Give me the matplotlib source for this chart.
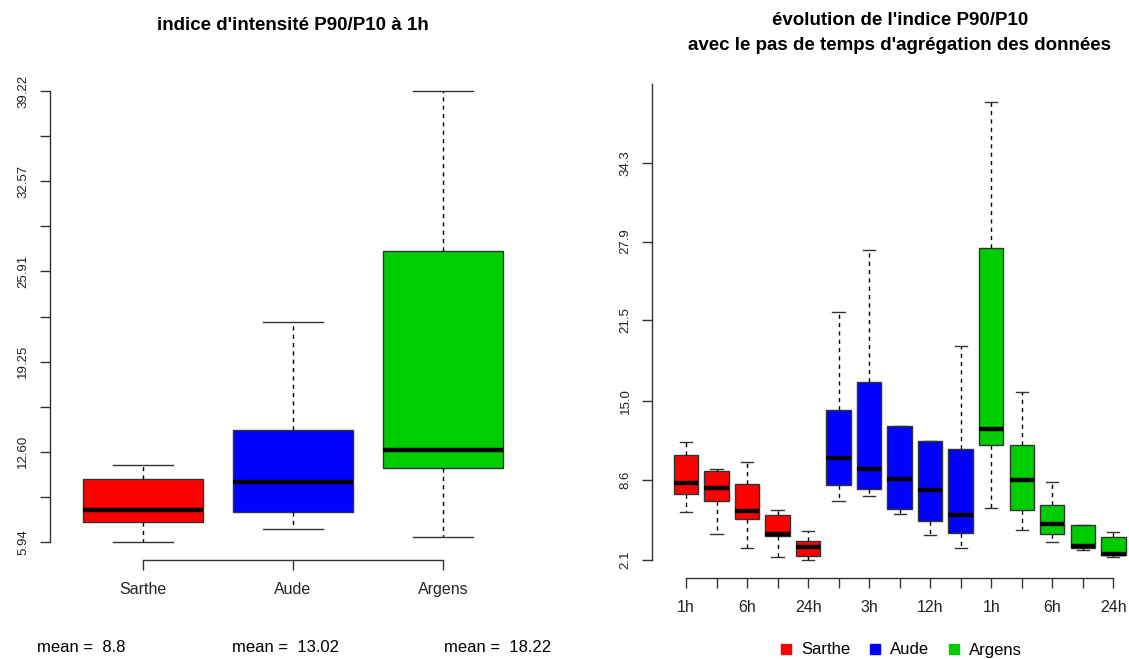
import numpy as np
import matplotlib
matplotlib.use("Agg")
import matplotlib.pyplot as plt
from matplotlib.lines import Line2D

plt.rcParams['font.family'] = ['Liberation Sans', 'DejaVu Sans']

# bassins et pas de temps d'agrégation
bassins = ["Sarthe", "Aude", "Argens"]
couleurs = ["#FF0000", "#0000FF", "#00CD00"]
pas = ["1h", "3h", "6h", "12h", "24h"]

# statistiques des boites : moustache basse, Q1, médiane, Q3, moustache haute (un par pas)
sarthe_stats = [
    [5.94, 7.42, 8.31, 10.60, 11.64],
    [4.21, 6.82, 7.92, 9.28, 9.47],
    [3.04, 5.40, 6.05, 8.22, 9.99],
    [2.31, 3.99, 4.16, 5.70, 6.11],
    [2.10, 2.43, 3.10, 3.64, 4.43],
]
aude_stats = [
    [6.90, 8.16, 10.38, 14.22, 22.21],
    [7.25, 7.84, 9.42, 16.54, 27.25],
    [5.84, 6.19, 8.63, 12.94, 12.94],
    [4.10, 5.24, 7.73, 11.72, 11.72],
    [3.04, 4.26, 5.70, 11.04, 19.44],
]
argens_stats = [
    [6.31, 11.41, 12.74, 27.39, 39.22],
    [4.54, 6.11, 8.55, 11.37, 15.68],
    [3.56, 4.18, 5.03, 6.54, 8.38],
    [2.86, 3.04, 3.18, 4.89, 4.89],
    [2.31, 2.45, 2.59, 3.94, 4.34],
]
moyennes = [8.8, 13.02, 18.22]

ticks_gauche = ["5.94", "12.60", "19.25", "25.91", "32.57", "39.22"]
ticks_droite = ["2.1", "8.6", "15.0", "21.5", "27.9", "34.3"]

W, H = 1129, 659
GRIS = "#333333"


def to_bxp(s):
    return dict(whislo=s[0], q1=s[1], med=s[2], q3=s[3], whishi=s[4], fliers=[])


def boites(ax, stats, cols, positions):
    b = ax.bxp([to_bxp(s) for s in stats], positions=positions, widths=0.8,
               patch_artist=True, showfliers=False, capwidths=0.4,
               boxprops=dict(edgecolor=GRIS, linewidth=1.0),
               medianprops=dict(color="black", linewidth=3.2, solid_capstyle="butt"),
               whiskerprops=dict(color="black", linewidth=1.0, linestyle=(0, (3, 3))),
               capprops=dict(color=GRIS, linewidth=1.0))
    for patch, c in zip(b["boxes"], cols):
        patch.set_facecolor(c)
    return b


def style_axes(ax):
    for s in ["top", "right"]:
        ax.spines[s].set_visible(False)
    for s in ["left", "bottom"]:
        ax.spines[s].set_color(GRIS)
        ax.spines[s].set_linewidth(1.0)
    ax.tick_params(axis="both", which="both", direction="out", length=7,
                   width=1.0, color=GRIS, labelcolor="#222222", labelsize=9.5, pad=8)
    ax.tick_params(axis="x", labelsize=11.5, pad=9)


def r_lim(lo, hi):
    d = 0.04 * (hi - lo)
    return lo - d, hi + d


fig = plt.figure(figsize=(W / 100, H / 100), dpi=100)

# --- panneau gauche : indice à 1h par bassin
ax1 = fig.add_axes([50 / W, 1 - 560 / H, (536 - 50) / W, (560 - 73) / H])
stats_1h = [sarthe_stats[0], aude_stats[0], argens_stats[0]]
boites(ax1, stats_1h, couleurs, [1, 2, 3])
yv = [float(t) for t in ticks_gauche]
ax1.set_ylim(*r_lim(yv[0], yv[-1]))
ax1.set_xlim(0.38, 3.62)
style_axes(ax1)
ax1.set_yticks(yv)
ax1.set_yticklabels(ticks_gauche, rotation=90, va="center")
ax1.set_yticks([(a + b) / 2 for a, b in zip(yv[:-1], yv[1:])], minor=True)
ax1.set_xticks([1, 2, 3])
ax1.set_xticklabels(bassins)
ax1.spines["left"].set_bounds(yv[0], yv[-1])
ax1.spines["bottom"].set_bounds(1, 3)

fig.text((50 + 536) / 2 / W, 1 - 25 / H, "indice d'intensité P90/P10 à 1h",
         ha="center", va="center", fontsize=13.5, fontweight="bold")

for x0, m in zip([37, 232, 444], moyennes):
    fig.text(x0 / W, 1 - 647 / H, f"mean =  {m}", ha="left", va="center", fontsize=12)

# --- panneau droit : évolution avec le pas de temps
ax2 = fig.add_axes([652.4 / W, 1 - 578 / H, (1146.9 - 652.4) / W, (578 - 83.7) / H])
all_stats = sarthe_stats + aude_stats + argens_stats
all_cols = [c for c in couleurs for _ in pas]
pos = np.arange(1, len(all_stats) + 1)
boites(ax2, all_stats, all_cols, pos)
lo = min(s[0] for s in all_stats)
hi = max(s[4] for s in all_stats)
ylo, yhi = r_lim(lo, hi)
ax2.set_ylim(ylo, yhi)
ax2.set_xlim(-0.1, 16.1)
style_axes(ax2)
ax2.set_yticks([float(t) for t in ticks_droite])
ax2.set_yticklabels(ticks_droite, rotation=90, va="center")
ax2.set_xticks(pos)
etiquettes = [p if i % 2 == 0 else "" for i, p in enumerate(pas * len(bassins))]
ax2.set_xticklabels(etiquettes)
ax2.spines["left"].set_bounds(lo, yhi)
ax2.spines["bottom"].set_bounds(1, len(all_stats))

fig.text(900 / W, 1 - 33 / H,
         "évolution de l'indice P90/P10\navec le pas de temps d'agrégation des données",
         ha="center", va="center", fontsize=13.5, fontweight="bold", linespacing=1.55)

handles = [Line2D([], [], marker="s", linestyle="", color=c, markersize=7) for c in couleurs]
fig.legend(handles, bassins, loc="center", bbox_to_anchor=(900 / W, 1 - 650 / H),
           ncol=3, frameon=False, fontsize=12, handletextpad=0.4,
           columnspacing=1.0, handlelength=1.0)

fig.savefig("out.png", dpi=100)
